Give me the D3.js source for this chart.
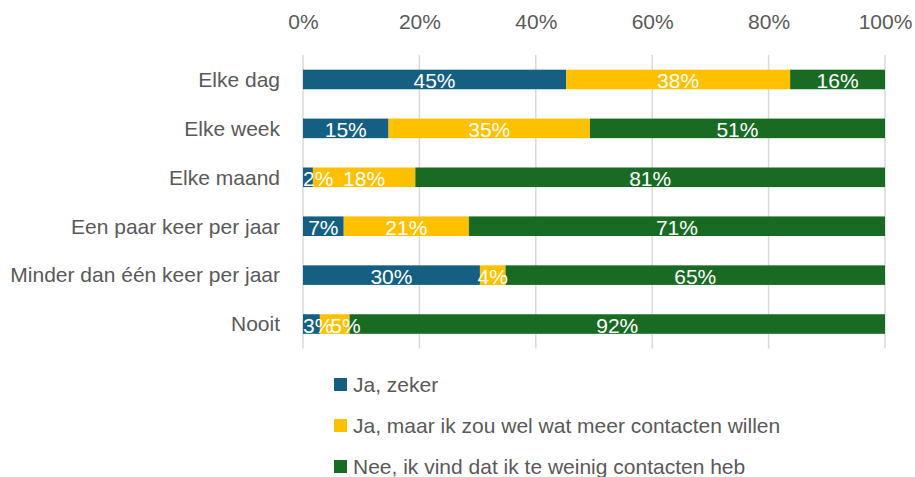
<!DOCTYPE html>
<html><head><meta charset="utf-8">
<script src="https://cdn.jsdelivr.net/npm/d3@7"></script>
<style>
html,body{margin:0;padding:0;background:#fff;}
svg{display:block;}
</style></head>
<body>
<svg id="chart" width="915" height="477"></svg>
<script>
const categories = ["Elke dag","Elke week","Elke maand","Een paar keer per jaar","Minder dan één keer per jaar","Nooit"];
const seriesNames = ["Ja, zeker","Ja, maar ik zou wel wat meer contacten willen","Nee, ik vind dat ik te weinig contacten heb"];
const jaZeker = [45.2, 14.7, 1.7, 7.0, 30.4, 2.9];
const jaMaar = [38.5, 34.6, 17.6, 21.5, 4.4, 5.1];
const nee = [16.3, 50.7, 80.7, 71.5, 65.2, 92.0];
const labelsJaZeker = ["45%","15%","2%","7%","30%","3%"];
const labelsJaMaar = ["38%","35%","18%","21%","4%","5%"];
const labelsNee = ["16%","51%","81%","71%","65%","92%"];
const tickValues = [0,20,40,60,80,100];
const colors = ["#156082","#FFC000","#196B24"];

const font = "'Liberation Sans', Arial, sans-serif";
const fs = 21;
const svg = d3.select("#chart");
const x = d3.scaleLinear().domain([0,100]).range([303,885]);
const y = d3.scaleBand().domain(categories).range([55,348.5]).paddingInner(0.6).paddingOuter(0.3);

// gridlines
svg.append("g").selectAll("line").data(tickValues).join("line")
  .attr("x1",d=>x(d)).attr("x2",d=>x(d)).attr("y1",55).attr("y2",348.5)
  .attr("stroke","#d9d9d9").attr("stroke-width",1.5);

// top axis labels
const xAxis = d3.axisTop(x).tickValues(tickValues).tickFormat(d=>d+"%").tickSize(0).tickPadding(0);
const gx = svg.append("g").attr("transform","translate(0,29)").call(xAxis);
gx.select(".domain").remove();
gx.selectAll("text").attr("font-family",font).attr("font-size",fs).attr("fill","#595959");

// y axis labels
const yAxis = d3.axisLeft(y).tickSize(0).tickPadding(0);
const gy = svg.append("g").attr("transform","translate(280,0)").call(yAxis);
gy.select(".domain").remove();
gy.selectAll("text").attr("font-family",font).attr("font-size",fs).attr("fill","#595959").attr("dy","0.35em");

const table = categories.map((c,i)=>({cat:c, v:[jaZeker[i],jaMaar[i],nee[i]], l:[labelsJaZeker[i],labelsJaMaar[i],labelsNee[i]]}));
const segs = [];
table.forEach(r=>{
  let acc=0;
  r.v.forEach((v,k)=>{segs.push({cat:r.cat,k,x0:acc,x1:acc+v,label:r.l[k]}); acc+=v;});
});

svg.append("g").selectAll("rect").data(segs).join("rect")
  .attr("x",d=>x(d.x0)).attr("width",d=>x(d.x1)-x(d.x0))
  .attr("y",d=>y(d.cat)).attr("height",y.bandwidth())
  .attr("fill",d=>colors[d.k]);

const labels = svg.append("g").selectAll("text").data(segs).join("text")
  .attr("x",d=>(x(d.x0)+x(d.x1))/2).attr("y",d=>y(d.cat)+y.bandwidth()/2+1)
  .attr("text-anchor","middle").attr("dominant-baseline","central")
  .attr("font-family",font).attr("font-size",fs).attr("fill","#ffffff")
  .text(d=>d.label);

// keep labels inside plot area and limit overlap (like the spreadsheet does)
const lastRight = {};
labels.each(function(d){
  const w = this.getComputedTextLength();
  let cx = (x(d.x0)+x(d.x1))/2;
  if (cx - w/2 < x(0)) cx = x(0) + w/2;
  if (lastRight[d.cat] !== undefined && cx - w/2 < lastRight[d.cat] - 3) cx = lastRight[d.cat] - 3 + w/2;
  lastRight[d.cat] = cx + w/2;
  d3.select(this).attr("x", cx);
});

// legend
const lg = svg.append("g").selectAll("g").data(seriesNames).join("g")
  .attr("transform",(d,i)=>`translate(334,${378+i*41})`);
lg.append("rect").attr("width",13).attr("height",13).attr("fill",(d,i)=>colors[i]);
lg.append("text").attr("x",19).attr("y",14).attr("font-family",font).attr("font-size",fs).attr("fill","#595959").text(d=>d);
</script>
</body></html>
